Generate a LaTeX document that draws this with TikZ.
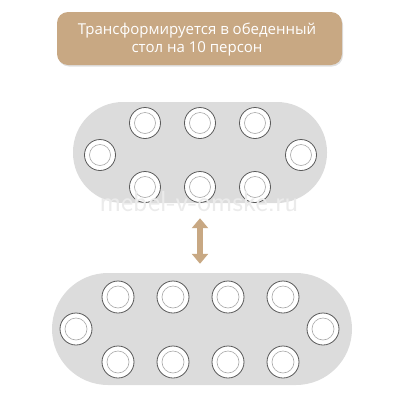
\documentclass[tikz,border=0pt]{standalone}
\usepackage{fontspec}
\setmainfont{Open Sans}
\usetikzlibrary{arrows.meta}
\definecolor{tan}{HTML}{C8A883}
\definecolor{tablegray}{HTML}{DCDCDC}
\definecolor{rimgray}{HTML}{5A5A5A}
\definecolor{innergray}{HTML}{A8A8A8}
\tikzset{
  banner/.style={fill=tan, rounded corners=11pt, minimum width=285pt, minimum height=53pt, inner sep=0pt},
  bannertext/.style={text=white, align=center, inner sep=0pt, font=\fontsize{15}{18}\selectfont},
  tablebox/.style={fill=tablegray, draw=none, inner sep=0pt},
  plate/.style={circle, fill=white, draw=rimgray, line width=0.8pt, inner sep=0pt},
  plateinner/.style={circle, draw=innergray, line width=0.6pt, inner sep=0pt},
  swap/.style={draw=tan, line width=6pt, {Triangle[width=16pt,length=10pt]}-{Triangle[width=16pt,length=10pt]}}
}
\newcommand{\plateat}[4]{%
  \node[plate, minimum size=#3pt] (#1) at (#2) {};
  \node[plateinner, minimum size=#4pt] at (#1) {};}
\begin{document}
\begin{tikzpicture}[x=1pt,y=-1pt]
\useasboundingbox (0,0) rectangle (400,400);
% banner
\node[fill=black!12, rounded corners=11pt, minimum width=285pt, minimum height=53pt] at (200.5,40) {};
\node[banner] (title) at (199.5,38.5) {};
\node[bannertext] (titletext) at (197,39.5) {Трансформируется в обеденный\\стол на 10 персон};
% top table
\node[tablebox, minimum width=254pt, minimum height=101pt, rounded corners=50pt] (t1) at (200,152.5) {};
\foreach \n/\x/\y in {a1/145/123, a2/200/123, a3/255/123, a4/145/187, a5/200/187, a6/255/187, a7/100/155, a8/301/155}{
  \plateat{\n}{\x,\y}{31}{21}
}
% watermark
\node[text=black!8, font=\sffamily\fontsize{29}{29}\selectfont] (wm) at (199,202) {mebel-v-omske.ru};
% bottom table
\node[tablebox, minimum width=300pt, minimum height=112pt, rounded corners=56pt] (t2) at (202,329) {};
\foreach \n/\x/\y in {b1/118/297, b2/173/297, b3/228/297, b4/283/297, b5/118/362, b6/173/362, b7/228/362, b8/283/362, b9/76/329, b10/323/329}{
  \plateat{\n}{\x,\y}{32}{22}
}
% arrow
\draw[swap, shorten <=15pt, shorten >=9pt] (t1.south -| 200,0) -- (t2.north -| 200,0);
\end{tikzpicture}
\end{document}
